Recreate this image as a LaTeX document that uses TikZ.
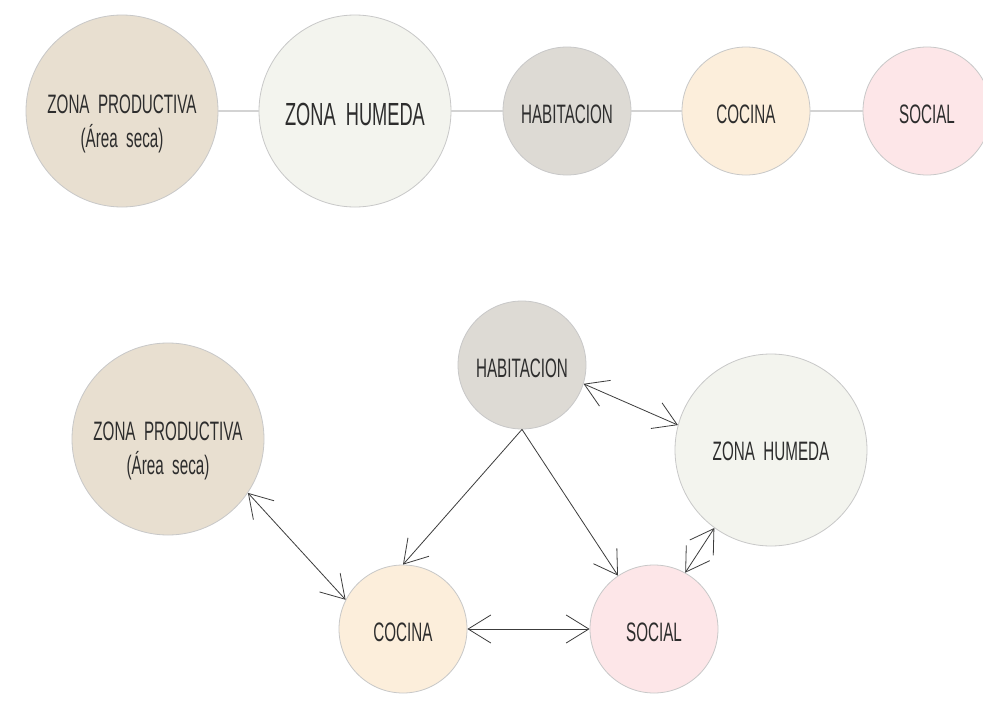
\documentclass[tikz,border=0pt]{standalone}
\usepackage{fontspec}
\setmainfont[FakeStretch=0.57]{Liberation Sans}
\usepackage{tikz}
\usetikzlibrary{arrows.meta}
\definecolor{zona-seca}{RGB}{232, 223, 208}
\definecolor{zona-humeda}{RGB}{243, 244, 238}
\definecolor{zona-hab}{RGB}{221, 218, 212}
\definecolor{zona-cocina}{RGB}{252, 238, 219}
\definecolor{zona-social}{RGB}{253, 230, 232}
\definecolor{zona-borde}{RGB}{200, 200, 200}
\definecolor{zona-linea}{RGB}{211, 211, 211}
\definecolor{zona-flecha}{RGB}{60, 60, 60}
\definecolor{zona-texto}{RGB}{45, 45, 45}

\begin{document}
\begin{tikzpicture}[x=0.75pt, y=-0.75pt,
    >={Straight Barb[length=17pt, width=21pt]},
    zona/.style={circle, draw=zona-borde, line width=0.6pt, inner sep=0pt,
      text=zona-texto, text height=19pt, text depth=0pt, font=\fontsize{20}{25}\selectfont},
    grande/.style={zona, minimum size=144pt},
    chica/.style={zona, minimum size=96pt},
    texto/.style={text=zona-texto, align=center, font=\fontsize{20}{25}\selectfont},
    enlace/.style={zona-linea, line width=1.5pt},
    flecha/.style={zona-flecha, line width=0.6pt}]
          \fill[white] (0, 0) rectangle (983, 703);
          \useasboundingbox (0, 0) rectangle (983, 703);

          % esquema lineal
          \node[grande, fill=zona-seca] (zp1) at (122, 111) {};
          \node[texto] (zp1t) at (122, 124) {ZONA~~PRODUCTIVA\\(Área~~seca)};
          \node[grande, fill=zona-humeda, text height=22pt, font=\fontsize{24}{25}\selectfont] (zh1) at (355, 111) {ZONA~~HUMEDA};
          \node[chica, fill=zona-hab] (hab1) at (567, 111) {HABITACION};
          \node[chica, fill=zona-cocina] (coc1) at (746, 111) {COCINA};
          \node[chica, fill=zona-social] (soc1) at (927, 111) {SOCIAL};
          \draw[enlace] (zp1) -- (zh1);
          \draw[enlace] (zh1) -- (hab1);
          \draw[enlace] (hab1) -- (coc1);
          \draw[enlace] (coc1) -- (soc1);

          % relaciones
          \node[grande, fill=zona-seca] (zp2) at (168, 439) {};
          \node[texto] (zp2t) at (168, 451) {ZONA~~PRODUCTIVA\\(Área~~seca)};
          \node[chica, fill=zona-hab] (hab2) at (522, 365) {HABITACION};
          \node[grande, fill=zona-humeda, text height=15pt] (zh2) at (771, 450) {ZONA~~HUMEDA};
          \node[chica, fill=zona-cocina] (coc2) at (403, 629) {COCINA};
          \node[chica, fill=zona-social] (soc2) at (654, 629) {SOCIAL};

          \draw[flecha, <->] (zp2.-34) -- (coc2.153);
          \draw[flecha, ->] (hab2.south) -- (coc2.north);
          \draw[flecha, ->] (hab2.south) -- (soc2.124);
          \draw[flecha, <->] (hab2.-17) -- (zh2.165);
          \draw[flecha, <->] (zh2.234) -- (soc2.61);
          \draw[flecha, <->] (coc2.east) -- (soc2.west);
\end{tikzpicture}
\end{document}
